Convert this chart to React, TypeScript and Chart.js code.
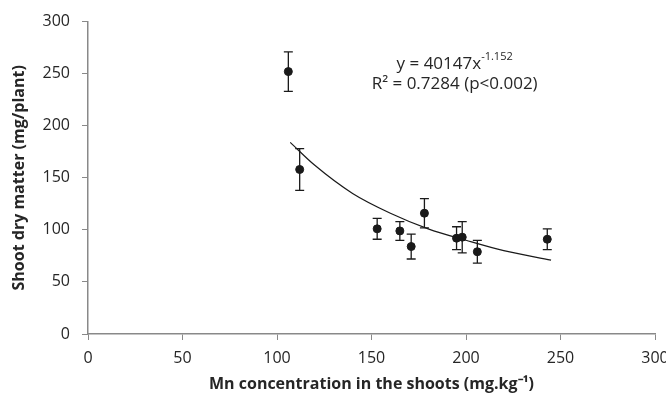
import React, { useEffect, useRef } from "react";
import { Chart, registerables } from "chart.js";

Chart.register(...registerables);

const mnConc = [106, 112, 153, 165, 171, 178, 195, 198, 206, 243];
const dryMatter = [252, 158, 101, 99, 84, 116, 92, 93, 79, 91];
const errSd = [19, 20, 10, 9, 12, 14, 11, 15, 11, 10];

const trendX = [107, 120, 140, 160, 180, 200, 220, 245];
const trendY = [184, 162, 135, 116, 101, 90, 80, 71];

const xTicks = [0, 50, 100, 150, 200, 250, 300];
const yTicks = [0, 50, 100, 150, 200, 250, 300];

const eqMain = "y = 40147x";
const eqExp = "-1.152";
const r2Text = "R² = 0.7284 (p<0.002)";

const FONT = "'Open Sans', 'Liberation Sans', sans-serif";
const AXIS = "#898989";
const TEXT = "#262626";

const errorBarPlugin = {
  id: "errorBars",
  afterDatasetsDraw(chart: any) {
    const ctx = chart.ctx;
    const xs = chart.scales.x;
    const ys = chart.scales.y;
    ctx.save();
    ctx.strokeStyle = "#1a1a1a";
    ctx.lineWidth = 1.3;
    for (let i = 0; i < mnConc.length; i++) {
      const px = xs.getPixelForValue(mnConc[i]);
      const top = ys.getPixelForValue(dryMatter[i] + errSd[i]);
      const bot = ys.getPixelForValue(dryMatter[i] - errSd[i]);
      ctx.beginPath();
      ctx.moveTo(px, top);
      ctx.lineTo(px, bot);
      ctx.moveTo(px - 4.5, top);
      ctx.lineTo(px + 4.5, top);
      ctx.moveTo(px - 4.5, bot);
      ctx.lineTo(px + 4.5, bot);
      ctx.stroke();
    }
    // equation annotation
    const cx = xs.getPixelForValue(194);
    const y1 = ys.getPixelForValue(259);
    const y2 = ys.getPixelForValue(240);
    ctx.fillStyle = TEXT;
    ctx.textBaseline = "middle";
    ctx.font = `17px ${FONT}`;
    const wMain = ctx.measureText(eqMain).width;
    ctx.font = `11px ${FONT}`;
    const wExp = ctx.measureText(eqExp).width;
    const start = cx - (wMain + wExp) / 2;
    ctx.font = `17px ${FONT}`;
    ctx.textAlign = "left";
    ctx.fillText(eqMain, start, y1);
    ctx.font = `11px ${FONT}`;
    ctx.fillText(eqExp, start + wMain, y1 - 7);
    ctx.font = `17px ${FONT}`;
    ctx.textAlign = "center";
    ctx.fillText(r2Text, cx, y2);
    ctx.restore();
  },
};

export default function App() {
  const ref = useRef<HTMLCanvasElement>(null);
  useEffect(() => {
    document.body.style.margin = "0";
    const chart = new Chart(ref.current!, {
      type: "scatter",
      data: {
        datasets: [
          {
            type: "line",
            data: trendX.map((x, i) => ({ x, y: trendY[i] })),
            borderColor: "#1a1a1a",
            borderWidth: 1.2,
            pointRadius: 0,
            cubicInterpolationMode: "monotone",
            fill: false,
          } as any,
          {
            data: mnConc.map((x, i) => ({ x, y: dryMatter[i] })),
            backgroundColor: "#1a1a1a",
            borderColor: "#1a1a1a",
            pointRadius: 4,
            pointHoverRadius: 4,
          },
        ],
      },
      plugins: [errorBarPlugin],
      options: {
        responsive: false,
        animation: false,
        events: [],
        layout: { padding: { top: 19, right: 11, left: 0, bottom: 0 } },
        plugins: { legend: { display: false }, tooltip: { enabled: false } },
        scales: {
          x: {
            type: "linear",
            min: 0,
            max: 300,
            afterBuildTicks: (s: any) => {
              s.ticks = xTicks.map((v) => ({ value: v }));
            },
            afterFit: (s: any) => {
              s.height = 63;
              s.paddingLeft = 0;
              s.paddingRight = 0;
            },
            grid: {
              drawOnChartArea: false,
              drawTicks: true,
              tickLength: 6,
              color: AXIS,
            },
            border: { color: AXIS, width: 1.5 },
            ticks: {
              color: TEXT,
              font: { family: FONT, size: 16 },
              padding: 9,
              maxRotation: 0,
            },
            title: {
              display: true,
              text: "Mn concentration in the shoots (mg.kg⁻¹)",
              color: TEXT,
              font: { family: FONT, size: 16, weight: "bold" },
              padding: { top: 0, bottom: 3 },
            },
          },
          y: {
            type: "linear",
            min: 0,
            max: 300,
            afterBuildTicks: (s: any) => {
              s.ticks = yTicks.map((v) => ({ value: v }));
            },
            afterFit: (s: any) => {
              s.width = 88;
            },
            grid: {
              drawOnChartArea: false,
              drawTicks: true,
              tickLength: 6,
              color: AXIS,
            },
            border: { color: AXIS, width: 1.5 },
            ticks: {
              color: TEXT,
              font: { family: FONT, size: 16 },
              padding: 12,
            },
            title: {
              display: true,
              text: "Shoot dry matter (mg/plant)",
              color: TEXT,
              font: { family: FONT, size: 16, weight: "bold" },
              padding: { top: 10, bottom: 0 },
            },
          },
        },
      },
    } as any);
    return () => chart.destroy();
  }, []);
  return (
    <div style={{ position: "absolute", left: 0, top: 0, width: 666, height: 397 }}>
      <canvas ref={ref} width={666} height={397} style={{ display: "block" }} />
    </div>
  );
}
